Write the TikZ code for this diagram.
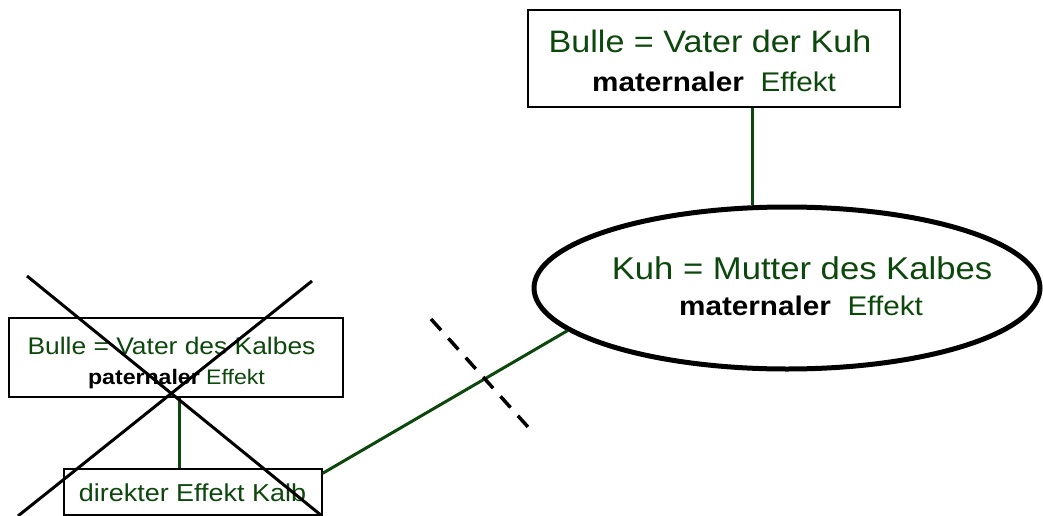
\documentclass[tikz,border=0pt]{standalone}
\usepackage{fontspec}
\setmainfont{Liberation Sans}[FakeStretch=1.1]
\usetikzlibrary{shapes.geometric}
\definecolor{dgreen}{RGB}{12,72,12}
\begin{document}
\begin{tikzpicture}[x=1pt,y=-1pt,
  box/.style={draw=black, line width=1.5pt, fill=white, inner sep=0pt},
  oval/.style={draw=black, ellipse, line width=5pt, fill=white, inner sep=0pt},
  lbl/.style={anchor=base, inner sep=0pt, text=dgreen},
  conn/.style={draw=dgreen, line width=3pt},
  cross/.style={draw=black, line width=3pt},
  cut/.style={draw=black, line width=3.5pt, dash pattern=on 15pt off 11pt}]
\useasboundingbox (0,0) rectangle (1043,516);

% shapes
\node[box, minimum width=372pt, minimum height=97pt] (tb) at (714,58.5) {};
\node[oval, minimum width=506pt, minimum height=162pt] (ell) at (787,288) {};
\node[box, minimum width=334pt, minimum height=79pt] (lb) at (176,357.5) {};
\node[box, minimum width=258pt, minimum height=46pt] (bot) at (193,492) {};

% connectors
\coordinate (ca) at (752,0);
\coordinate (cb) at (179,0);
\draw[conn] (tb.south -| ca) -- (ell.north -| ca);
\draw[conn] (lb.south -| cb) -- (bot.north -| cb);
\draw[conn] ([yshift=-5pt]bot.north east) -- (ell.191);

% texts
\node[lbl, font=\fontsize{31}{31}\selectfont] (t1) at (710,53) {Bulle = Vater der Kuh};
\node[lbl, font=\fontsize{27}{27}\selectfont] (t2) at (714,92) {\textcolor{black}{\bfseries maternaler}~ Effekt};
\node[lbl, font=\fontsize{31.5}{31.5}\selectfont] (t3) at (802,279) {Kuh = Mutter des Kalbes};
\node[lbl, font=\fontsize{27}{27}\selectfont] (t4) at (801,315) {\textcolor{black}{\bfseries maternaler}~ Effekt};
\node[lbl, font=\fontsize{24}{24}\selectfont] (t5) at (171.5,354) {Bulle = Vater des Kalbes};
\node[lbl, font=\fontsize{21}{21}\selectfont] (t6) at (176.5,384) {\textcolor{black}{\bfseries paternaler} Effekt};
\node[lbl, font=\fontsize{24.5}{24.5}\selectfont] (t7) at (192.5,501) {direkter Effekt Kalb};

% cut mark
\coordinate (d1) at (431,319);
\coordinate (d2) at (528,427);
\draw[cut] (d1) -- (d2);

% crossing out
\coordinate (x1) at (27,276);
\coordinate (x2) at (322,516);
\coordinate (x3) at (312,281);
\coordinate (x4) at (18,516);
\draw[cross] (x1) -- (x2);
\draw[cross] (x3) -- (x4);
\end{tikzpicture}
\end{document}
